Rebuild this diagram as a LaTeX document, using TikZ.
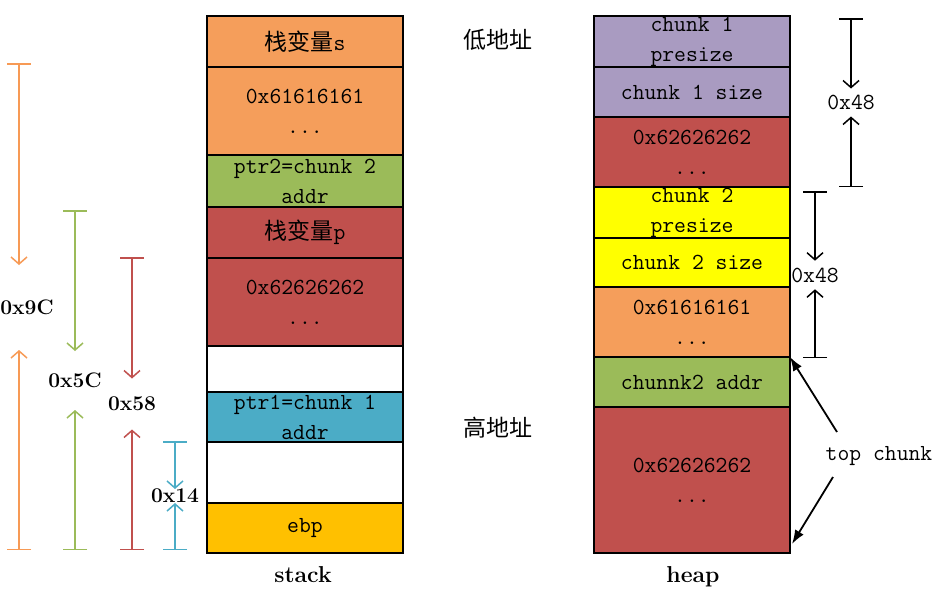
\documentclass[tikz,border=0pt]{standalone}
\usepackage{fontspec}
\newfontfamily\cjk{Noto Sans CJK SC}
\usepackage{tikz}
\usetikzlibrary{arrows.meta,positioning,calc}
\definecolor{cellorange}{HTML}{F59E5B}
\definecolor{cellred}{HTML}{C0504D}
\definecolor{cellgreen}{HTML}{9BBB59}
\definecolor{cellblue}{HTML}{4BACC6}
\definecolor{ebpgold}{HTML}{FFC000}
\definecolor{chunkpurple}{HTML}{A99BC1}
\definecolor{chunkyellow}{HTML}{FFFF00}
\definecolor{dimorange}{HTML}{F79A55}

\begin{document}
\begin{tikzpicture}[
        x=1pt,y=-1pt,
        cell/.style={draw=black,line width=1.5pt,minimum width=196,inner sep=0pt,
                     outer sep=0pt,font=\fontsize{23}{30}\selectfont\ttfamily,align=center},
        dimlab/.style={font=\fontsize{21}{21}\selectfont\bfseries,inner sep=0pt,outer sep=0pt},
        hexlab/.style={font=\fontsize{23}{23}\selectfont\ttfamily,inner sep=0pt,outer sep=0pt},
        addrlab/.style={font=\cjk\fontsize{23}{23}\selectfont},
        colname/.style={font=\fontsize{23}{23}\selectfont\bfseries},
        measure/.style={line width=1.5pt,
                        {Bar[width=24pt]}-{Straight Barb[length=7pt,width=16pt]}},
        ptr/.style={line width=1.8pt,-{Latex[length=14pt,width=10pt]}}
      ]
        \useasboundingbox[fill=white] (0,0) rectangle (946,592);

        \node[cell,fill=cellorange,minimum height=51] (s1) at (305,41.5) {{\cjk 栈变量}s};
        \node[cell,fill=cellorange,minimum height=88] (s2) at (305,111) {0x61616161\\...};
        \node[cell,fill=cellgreen,minimum height=52] (s3) at (305,181) {ptr2=chunk 2\\addr};
        \node[cell,fill=cellred,minimum height=51] (s4) at (305,232.5) {{\cjk 栈变量}p};
        \node[cell,fill=cellred,minimum height=88] (s5) at (305,302) {0x62626262\\...};
        \node[cell,fill=white,minimum height=46] (s6) at (305,369) {};
        \node[cell,fill=cellblue,minimum height=50] (s7) at (305,417) {ptr1=chunk 1\\addr};
        \node[cell,fill=white,minimum height=61] (s8) at (305,472.5) {};
        \node[cell,fill=ebpgold,minimum height=50] (s9) at (305,528) {ebp};
        \node[colname] (stk) at (303,575) {stack};

        \node[cell,fill=chunkpurple,minimum height=51] (h1) at (692,41.5) {chunk 1\\presize};
        \node[cell,fill=chunkpurple,minimum height=50] (h2) at (692,92) {chunk 1 size};
        \node[cell,fill=cellred,minimum height=70] (h3) at (692,152) {0x62626262\\...};
        \node[cell,fill=chunkyellow,minimum height=51] (h4) at (692,212.5) {chunk 2\\presize};
        \node[cell,fill=chunkyellow,minimum height=49] (h5) at (692,262.5) {chunk 2 size};
        \node[cell,fill=cellorange,minimum height=70] (h6) at (692,322) {0x61616161\\...};
        \node[cell,fill=cellgreen,minimum height=50] (h7) at (692,382) {chunnk2 addr};
        \node[cell,fill=cellred,minimum height=146] (h8) at (692,480) {0x62626262\\...};
        \node[colname] (hp) at (693,577) {heap};

        \node[addrlab] (low) at (498,40) {低地址};
        \node[addrlab] (high) at (498,428) {高地址};

        \coordinate (o9t) at (19,63);
        \coordinate (o9b) at (19,550);
        \node[dimlab,minimum height=85] (l9c) at (27,307.5) {0x9C};
        \draw[measure,dimorange] (o9t) -- (o9t |- l9c.north);
        \draw[measure,dimorange] (o9b) -- (o9b |- l9c.south);

        \coordinate (g5t) at (75,210);
        \coordinate (g5b) at (75,550);
        \node[dimlab,minimum height=59] (l5c) at (75,380.5) {0x5C};
        \draw[measure,cellgreen] (g5t) -- (l5c);
        \draw[measure,cellgreen] (g5b) -- (l5c);

        \coordinate (r5t) at (132,257);
        \coordinate (r5b) at (132,550);
        \node[dimlab,minimum height=51] (l58) at (132,404) {0x58};
        \draw[measure,cellred] (r5t) -- (l58);
        \draw[measure,cellred] (r5b) -- (l58);

        \coordinate (b1t) at (175,441);
        \coordinate (b1b) at (175,550);
        \node[dimlab,minimum height=14] (l14) at (175,496) {0x14};
        \draw[measure,cellblue] (b1t) -- (l14);
        \draw[measure,cellblue] (b1b) -- (l14);

        \coordinate (k1t) at (851,18);
        \coordinate (k1b) at (851,187);
        \node[hexlab,minimum height=28] (l48a) at (851,102.5) {0x48};
        \draw[measure] (k1t) -- (l48a);
        \draw[measure] (k1b) -- (l48a);

        \coordinate (k2t) at (815,191);
        \coordinate (k2b) at (815,358);
        \node[hexlab,minimum height=28.6] (l48b) at (815,275) {0x48};
        \draw[measure] (k2t) -- (l48b);
        \draw[measure] (k2b) -- (l48b);

        \node[hexlab] (topc) at (879,456) {top chunk};
        \coordinate (tc1) at (837,432);
        \coordinate (tc2) at (833,477);
        \draw[ptr] (tc1) -- (h7.north east);
        \draw[ptr] (tc2) -- ($(h8.south east)+(2,-9)$);
      \end{tikzpicture}
\end{document}
